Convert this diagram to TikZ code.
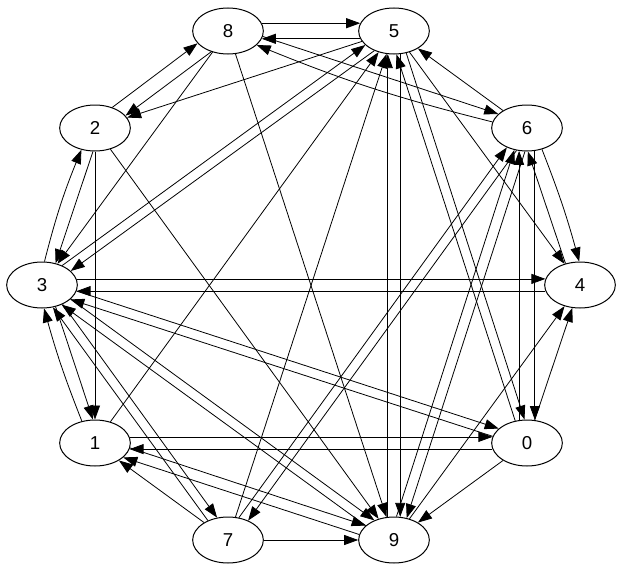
\documentclass[tikz,border=0pt]{standalone}
\usepackage{fontspec}
\setmainfont{Liberation Sans}
\usetikzlibrary{shapes.geometric,arrows.meta,calc}
\tikzset{
  vtx/.style={draw,ellipse,line width=0.75pt,minimum width=53pt,minimum height=34.5pt,inner sep=0pt,font=\fontsize{14}{16}\selectfont},
  arr/.style={-{Triangle[length=10.5pt,width=7.5pt]},line width=0.6pt}}
\newcommand\pairedge[4][0]{\draw[arr] let \p1=($(#3)-(#2)$), \n1={atan2(\y1,\x1)} in (#2.{\n1+#4}) to[bend left=#1] (#3.{\n1+180-#4});}
\begin{document}
\begin{tikzpicture}[x=0.75pt,y=-0.75pt]
\useasboundingbox (0,0) rectangle (621,571);
\node[vtx] (n8) at (228,31) {8};
\node[vtx] (n5) at (394,31) {5};
\node[vtx] (n2) at (95,128) {2};
\node[vtx] (n6) at (527,128) {6};
\node[vtx] (n3) at (42,285) {3};
\node[vtx] (n4) at (580,285) {4};
\node[vtx] (n1) at (95,443) {1};
\node[vtx] (n0) at (527,443) {0};
\node[vtx] (n7) at (228,540) {7};
\node[vtx] (n9) at (394,540) {9};
% pairs of opposite edges
\pairedge{n8}{n5}{13}
\pairedge{n5}{n8}{13}
\pairedge{n2}{n8}{14}
\pairedge{n8}{n2}{14}
\pairedge{n8}{n6}{8}
\pairedge[4]{n6}{n8}{8}
\pairedge{n5}{n3}{9}
\pairedge{n3}{n5}{9}
\pairedge{n5}{n9}{15}
\pairedge{n9}{n5}{15}
\pairedge{n5}{n0}{11}
\pairedge{n0}{n5}{11}
\pairedge{n2}{n3}{13}
\pairedge[4]{n3}{n2}{13}
\pairedge{n3}{n4}{10}
\pairedge{n4}{n3}{10}
\pairedge{n3}{n1}{13}
\pairedge[3]{n1}{n3}{13}
\pairedge{n3}{n7}{10}
\pairedge{n7}{n3}{10}
\pairedge{n3}{n0}{8}
\pairedge{n0}{n3}{8}
\pairedge{n3}{n9}{9}
\pairedge{n9}{n3}{9}
\pairedge[3]{n6}{n4}{16}
\pairedge{n4}{n6}{16}
\pairedge{n6}{n0}{19}
\pairedge{n0}{n6}{19}
\pairedge{n6}{n7}{10}
\pairedge{n7}{n6}{10}
\pairedge{n6}{n9}{12}
\pairedge{n9}{n6}{12}
\pairedge{n1}{n0}{10}
\pairedge{n0}{n1}{10}
\pairedge{n1}{n9}{9}
\pairedge{n9}{n1}{9}
% single edges
\draw[arr] (n5) -- (n2);
\draw[arr] (n8) -- (n3);
\draw[arr] (n8) -- (n9);
\draw[arr] (n6) -- (n5);
\draw[arr] (n1) -- (n5);
\draw[arr] (n7) -- (n5);
\draw[arr] (n5) -- (n4);
\draw[arr] (n2) -- (n1);
\draw[arr] (n2) -- (n9);
\draw[arr] (n9) -- (n4);
\draw[arr] (n0) -- (n4);
\draw[arr] (n0) -- (n9);
\draw[arr] (n7) -- (n1);
\draw[arr] (n7) -- (n9);
\end{tikzpicture}
\end{document}
